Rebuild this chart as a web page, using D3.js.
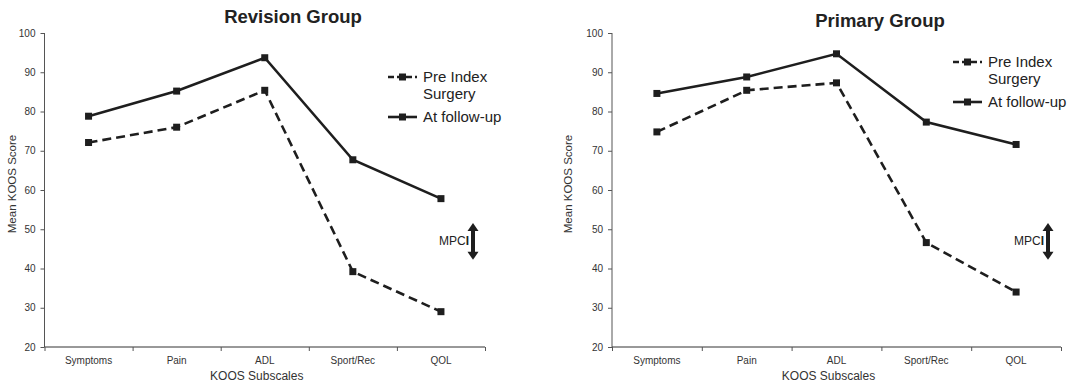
<!DOCTYPE html>
<html><head><meta charset="utf-8">
<script src="https://cdn.jsdelivr.net/npm/d3@7"></script>
<style>
html,body{margin:0;padding:0;background:#fff;}
svg{display:block;font-family:"Liberation Sans",Arial,sans-serif;}
</style></head>
<body><svg id="c" width="1070" height="384"></svg>
<script>
const categories = ["Symptoms","Pain","ADL","Sport/Rec","QOL"];
const revisionPre = [72.1, 76.0, 85.4, 39.2, 29.0];
const revisionFollow = [78.8, 85.2, 93.7, 67.7, 57.8];
const primaryPre = [74.8, 85.4, 87.3, 46.6, 34.0];
const primaryFollow = [84.6, 88.8, 94.7, 77.3, 71.6];
const yTicks = [20,30,40,50,60,70,80,90,100];
const legendLabels = [["Pre Index","Surgery"],["At follow-up"]];
const mpciRange = [42.2, 51.6];

const svg = d3.select("#c");
const ink = "#1e1e1e";

function drawPanel(o){
  const g = svg.append("g");
  const y = d3.scaleLinear().domain([20,100]).range([o.bottom,o.top]);
  const xb = d3.scaleBand().domain(categories).range([o.left,o.right]).padding(0);
  const xl = d3.scaleLinear().domain([0,categories.length]).range([o.left,o.right]);

  // y axis
  const ya = g.append("g").attr("transform",`translate(${o.left},0)`)
    .call(d3.axisLeft(y).tickValues(yTicks).tickSize(4).tickPadding(5).tickFormat(d3.format("d")));
  ya.select(".domain").attr("stroke","#555").attr("d",`M-0,${o.top}V${o.bottom}`);
  ya.selectAll(".tick line").attr("stroke","#555");
  ya.selectAll(".tick text").attr("font-size",10).attr("fill","#333").attr("font-family","Liberation Sans, Arial");

  // x axis (ticks at band boundaries)
  const xa = g.append("g").attr("transform",`translate(0,${o.bottom})`)
    .call(d3.axisBottom(xl).tickValues(d3.range(categories.length+1)).tickSize(4).tickFormat(""));
  xa.select(".domain").attr("stroke","#333").attr("d",`M${o.left},0H${o.right}`);
  xa.selectAll(".tick line").attr("stroke","#555");
  g.append("g").selectAll("text").data(categories).join("text")
    .attr("x",d=>xb(d)+xb.bandwidth()/2).attr("y",o.bottom+17)
    .attr("text-anchor","middle").attr("font-size",10).attr("fill","#333").text(d=>d);

  // axis titles
  g.append("text").attr("x",(o.left+o.right)/2 - 8).attr("y",o.bottom+33)
    .attr("text-anchor","middle").attr("font-size",12).attr("fill","#333").text("KOOS Subscales");
  g.append("text").attr("transform",`translate(${o.ylabX},${(o.top+o.bottom)/2 - 6}) rotate(-90)`)
    .attr("text-anchor","middle").attr("font-size",11.5).attr("fill","#333").text("Mean KOOS Score");

  // title
  g.append("text").attr("x",o.titleX).attr("y",o.titleY).attr("text-anchor","middle")
    .attr("font-size",18.5).attr("font-weight","bold").attr("fill","#222").text(o.title);

  const line = d3.line().x((d,i)=>xb(categories[i])+xb.bandwidth()/2).y(d=>y(d));
  const series = [{v:o.pre,dash:"9,5"},{v:o.follow,dash:null}];
  series.forEach(s=>{
    g.append("path").datum(s.v).attr("d",line).attr("fill","none")
      .attr("stroke",ink).attr("stroke-width",2.6).attr("stroke-dasharray",s.dash);
    g.append("g").selectAll("rect").data(s.v).join("rect")
      .attr("x",(d,i)=>xb(categories[i])+xb.bandwidth()/2-3.5).attr("y",d=>y(d)-3.5)
      .attr("width",7).attr("height",7).attr("fill",ink);
  });

  // legend
  const lg = g.append("g");
  const ly = [o.legY, o.legY+40];
  series.forEach((s,i)=>{
    lg.append("line").attr("x1",o.legX).attr("x2",o.legX+29).attr("y1",ly[i]).attr("y2",ly[i])
      .attr("stroke",ink).attr("stroke-width",2.6).attr("stroke-dasharray",s.dash?"6,3":null);
    lg.append("rect").attr("x",o.legX+14.5-3.5).attr("y",ly[i]-3.5).attr("width",7).attr("height",7).attr("fill",ink);
    legendLabels[i].forEach((t,j)=>{
      lg.append("text").attr("x",o.legX+35).attr("y",ly[i]+5+j*17)
        .attr("font-size",15).attr("fill","#222").text(t);
    });
  });

  // MPCI arrow
  const ax = o.arrowX, y1 = y(mpciRange[1]), y2 = y(mpciRange[0]);
  g.append("line").attr("x1",ax).attr("x2",ax).attr("y1",y1+7).attr("y2",y2-7)
    .attr("stroke",ink).attr("stroke-width",4);
  g.append("path").attr("d",`M${ax},${y1}L${ax+5.5},${y1+8}L${ax-5.5},${y1+8}Z`).attr("fill",ink);
  g.append("path").attr("d",`M${ax},${y2}L${ax+5.5},${y2-8}L${ax-5.5},${y2-8}Z`).attr("fill",ink);
  const mt = g.append("text").attr("x",ax-4).attr("y",(y1+y2)/2+4).attr("text-anchor","end")
    .attr("font-size",12).attr("fill","#222");
  mt.append("tspan").text("MPC");
  mt.append("tspan").attr("font-weight","bold").text("I");
}

drawPanel({left:44.5,right:485,top:33,bottom:347,title:"Revision Group",titleX:293,titleY:23,
  pre:revisionPre,follow:revisionFollow,legX:388,legY:77,arrowX:473,ylabX:16});
drawPanel({left:612,right:1061,top:33,bottom:347,title:"Primary Group",titleX:880,titleY:27,
  pre:primaryPre,follow:primaryFollow,legX:953,legY:62,arrowX:1048,ylabX:572});
</script></body></html>
